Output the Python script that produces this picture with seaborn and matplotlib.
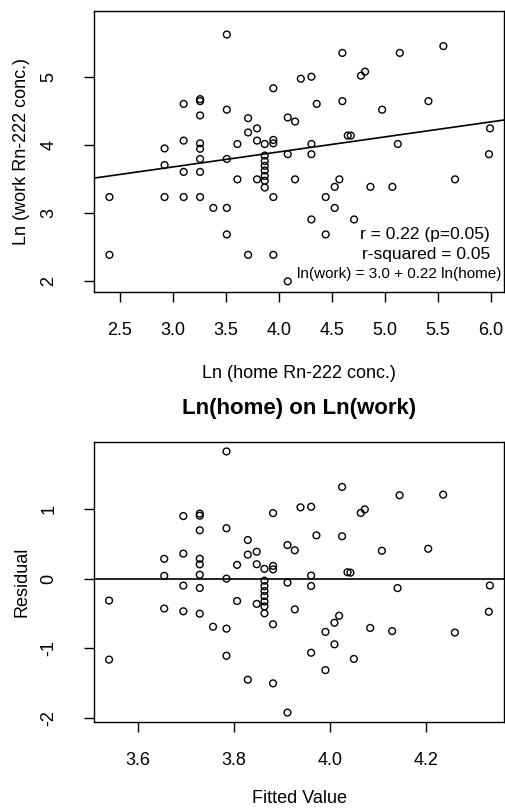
import numpy as np
import pandas as pd
import seaborn as sns
import matplotlib
matplotlib.use("Agg")
import matplotlib.pyplot as plt

# ln of home and work Rn-222 concentrations
home_ln = [2.40, 2.40,
           2.92, 2.92, 2.92,
           3.10, 3.10, 3.10, 3.10,
           3.255, 3.255, 3.255, 3.255, 3.255, 3.255, 3.255, 3.255,
           3.38,
           3.507, 3.507, 3.507, 3.507, 3.507,
           3.607, 3.607,
           3.708, 3.708, 3.708,
           3.792, 3.792, 3.792,
           3.865, 3.865, 3.865, 3.865, 3.865, 3.865, 3.865, 3.865,
           3.946, 3.946, 3.946, 3.946, 3.946,
           4.082, 4.082, 4.082,
           4.151, 4.151,
           4.205,
           4.305, 4.305, 4.305, 4.305,
           4.355,
           4.44, 4.44,
           4.525, 4.525,
           4.569,
           4.597, 4.597,
           4.648, 4.676,
           4.708,
           4.773, 4.811,
           4.862,
           4.972,
           5.069, 5.12, 5.139,
           5.409, 5.55, 5.66, 5.99, 5.98]

work_ln = [3.23, 2.38,
           3.945, 3.70, 3.23,
           4.60, 4.06, 3.60, 3.23,
           4.67, 4.64, 4.43, 4.02, 3.94, 3.79, 3.60, 3.23,
           3.07,
           5.62, 4.515, 3.79, 3.07, 2.68,
           4.01, 3.49,
           4.39, 4.18, 2.38,
           4.24, 4.06, 3.49,
           4.01, 3.84, 3.76, 3.69, 3.62, 3.54, 3.47, 3.37,
           4.83, 4.07, 4.02, 3.23, 2.38,
           4.40, 3.86, 1.99,
           4.34, 3.49,
           4.97,
           5.00, 4.01, 3.86, 2.90,
           4.60,
           3.23, 2.68,
           3.38, 3.07,
           3.49,
           5.35, 4.64,
           4.134, 4.134,
           2.90,
           5.015, 5.074,
           3.38,
           4.515,
           3.38, 4.01, 5.35,
           4.64, 5.45, 3.49, 4.24, 3.86]

# regression of ln(work) on ln(home)
fit_intercept = 3.01
fit_slope = 0.221

stats_lines = ["r = 0.22 (p=0.05)", "r-squared = 0.05", "ln(work) = 3.0 + 0.22 ln(home)"]

top_xticks = [2.5, 3.0, 3.5, 4.0, 4.5, 5.0, 5.5, 6.0]
top_yticks = [2, 3, 4, 5]
bot_xticks = [3.6, 3.8, 4.0, 4.2]
bot_yticks = [-2, -1, 0, 1]

df = pd.DataFrame({"home": home_ln, "work": work_ln})
df["fitted"] = fit_intercept + fit_slope * df["home"]
df["residual"] = df["work"] - df["fitted"]

sns.set_style("ticks")
plt.rcParams["font.family"] = ["Liberation Sans", "DejaVu Sans"]
plt.rcParams["text.color"] = "black"
plt.rcParams["axes.labelcolor"] = "black"
plt.rcParams["axes.linewidth"] = 1.0
plt.rcParams["xtick.major.width"] = 1.0
plt.rcParams["ytick.major.width"] = 1.0
plt.rcParams["xtick.major.size"] = 7.5
plt.rcParams["ytick.major.size"] = 7.5
plt.rcParams["xtick.color"] = "black"
plt.rcParams["ytick.color"] = "black"
plt.rcParams["axes.edgecolor"] = "black"

fig = plt.figure(figsize=(5.05, 8.1), dpi=100)
ax1 = fig.add_axes([0.1867, 0.6399, 0.812, 0.3465])
ax2 = fig.add_axes([0.1867, 0.1083, 0.812, 0.3457])

pt_kw = dict(marker="o", s=24, facecolors="none", edgecolor="black", linewidth=1.0)

# top: work vs home with fitted line
sns.scatterplot(data=df, x="home", y="work", ax=ax1, **pt_kw)
ax1.axline((0, fit_intercept), slope=fit_slope, color="black", lw=1.2)
ax1.set_xlim(2.257, 6.125)
ax1.set_ylim(1.838, 5.966)
ax1.set_xticks(top_xticks)
ax1.set_xticklabels([f"{t:.1f}" for t in top_xticks])
ax1.set_yticks(top_yticks)
ax1.set_yticklabels([str(t) for t in top_yticks], rotation=90, va="center")
ax1.set_xlabel("Ln (home Rn-222 conc.)", fontsize=13)
ax1.set_ylabel("Ln (work Rn-222 conc.)", fontsize=13)
ax1.xaxis.label.set_va("center")
ax1.yaxis.label.set_va("center")
ax1.xaxis.set_label_coords(0.5, -0.292)
ax1.yaxis.set_label_coords(-0.177, 0.5)
ax1.text(0.965, 0.202, stats_lines[0], transform=ax1.transAxes, ha="right", va="center", fontsize=12.5)
ax1.text(0.965, 0.134, stats_lines[1], transform=ax1.transAxes, ha="right", va="center", fontsize=12.5)
ax1.text(0.993, 0.063, stats_lines[2], transform=ax1.transAxes, ha="right", va="center", fontsize=11)

# bottom: residuals vs fitted
sns.scatterplot(data=df, x="fitted", y="residual", ax=ax2, **pt_kw)
ax2.axhline(0, color="black", lw=1.2)
ax2.set_xlim(3.5096, 4.364)
ax2.set_ylim(-2.062, 1.967)
ax2.set_xticks(bot_xticks)
ax2.set_xticklabels([f"{t:.1f}" for t in bot_xticks])
ax2.set_yticks(bot_yticks)
ax2.set_yticklabels([str(t) for t in bot_yticks], rotation=90, va="center")
ax2.set_xlabel("Fitted Value", fontsize=13)
ax2.set_ylabel("Residual", fontsize=13)
ax2.xaxis.label.set_va("center")
ax2.yaxis.label.set_va("center")
ax2.xaxis.set_label_coords(0.5, -0.272)
ax2.yaxis.set_label_coords(-0.177, 0.5)
ax2.set_title("Ln(home) on Ln(work)", fontsize=16, fontweight="bold", y=1.09, va="center", color="black")

for ax in (ax1, ax2):
    for side in ("top", "right", "left", "bottom"):
        ax.spines[side].set_visible(True)
    ax.tick_params(axis="x", labelsize=13, pad=14, labelcolor="black")
    ax.tick_params(axis="y", labelsize=13, pad=19, labelcolor="black")

fig.savefig("out.png", dpi=100)
